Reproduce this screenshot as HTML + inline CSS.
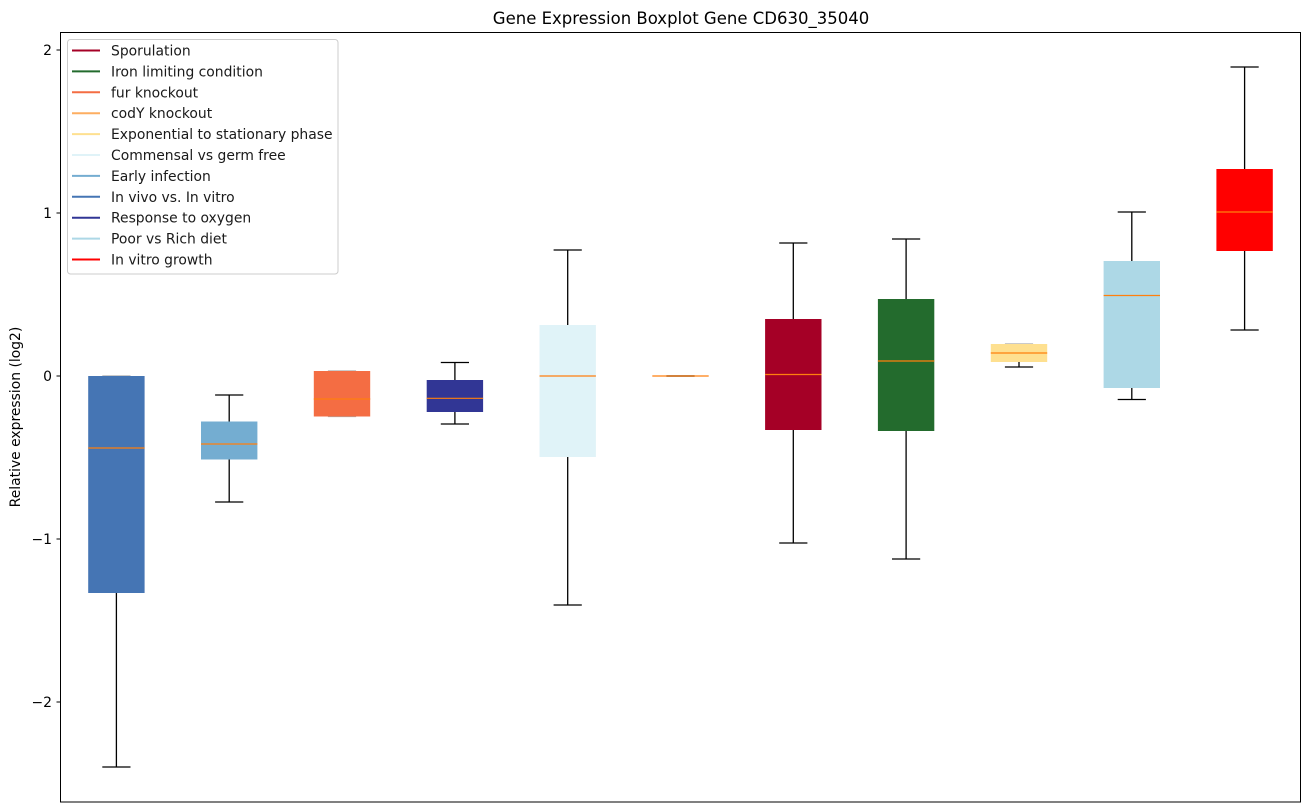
<!DOCTYPE html>
<html><head><meta charset="utf-8"><style>
html,body{margin:0;padding:0;background:#fff;}
svg{display:block;font-family:"DejaVu Sans","Liberation Sans",sans-serif;}
</style></head><body>
<svg width="1309" height="812" viewBox="0 0 1309 812" xmlns="http://www.w3.org/2000/svg">
<rect x="0" y="0" width="1309" height="812" fill="#fff"/>
<text x="681" y="24" font-size="16.5" text-anchor="middle" fill="#000">Gene Expression Boxplot Gene CD630_35040</text>

<!-- boxes -->
<g stroke="#000" stroke-width="1.3" fill="none">
<!-- 1 -->
<line x1="116.4" y1="593" x2="116.4" y2="767"/><line x1="102.3" y1="767" x2="130.5" y2="767"/>
<line x1="102.3" y1="376" x2="130.5" y2="376" stroke="#aaa"/>
<!-- 2 -->
<line x1="229.2" y1="395" x2="229.2" y2="421.5"/><line x1="229.2" y1="459.5" x2="229.2" y2="502"/>
<line x1="215.1" y1="395" x2="243.3" y2="395"/><line x1="215.1" y1="502" x2="243.3" y2="502"/>
<!-- 3 -->
<line x1="327.9" y1="371" x2="356.1" y2="371" stroke="#aaa"/><line x1="327.9" y1="416.5" x2="356.1" y2="416.5" stroke="#aaa"/>
<!-- 4 -->
<line x1="454.9" y1="362.5" x2="454.9" y2="380"/><line x1="454.9" y1="412" x2="454.9" y2="424"/>
<line x1="440.8" y1="362.5" x2="469" y2="362.5"/><line x1="440.8" y1="424" x2="469" y2="424"/>
<!-- 5 -->
<line x1="567.7" y1="250" x2="567.7" y2="325"/><line x1="567.7" y1="457" x2="567.7" y2="605"/>
<line x1="553.6" y1="250" x2="581.8" y2="250"/><line x1="553.6" y1="605" x2="581.8" y2="605"/>
<!-- 6 -->
<line x1="666.4" y1="376" x2="694.6" y2="376" stroke="#888" stroke-width="2"/>
<!-- 7 -->
<line x1="793.3" y1="243" x2="793.3" y2="319"/><line x1="793.3" y1="430" x2="793.3" y2="543"/>
<line x1="779.2" y1="243" x2="807.4" y2="243"/><line x1="779.2" y1="543" x2="807.4" y2="543"/>
<!-- 8 -->
<line x1="906.1" y1="239" x2="906.1" y2="299"/><line x1="906.1" y1="431" x2="906.1" y2="559"/>
<line x1="892" y1="239" x2="920.2" y2="239"/><line x1="892" y1="559" x2="920.2" y2="559"/>
<!-- 9 -->
<line x1="1019" y1="362" x2="1019" y2="367"/>
<line x1="1004.9" y1="367" x2="1033.1" y2="367"/><line x1="1004.9" y1="344" x2="1033.1" y2="344" stroke="#aaa"/>
<!-- 10 -->
<line x1="1131.8" y1="212" x2="1131.8" y2="261"/><line x1="1131.8" y1="388" x2="1131.8" y2="399.5"/>
<line x1="1117.7" y1="212" x2="1145.9" y2="212"/><line x1="1117.7" y1="399.5" x2="1145.9" y2="399.5"/>
<!-- 11 -->
<line x1="1244.6" y1="67" x2="1244.6" y2="169"/><line x1="1244.6" y1="251" x2="1244.6" y2="330"/>
<line x1="1230.5" y1="67" x2="1258.7" y2="67"/><line x1="1230.5" y1="330" x2="1258.7" y2="330"/>
</g>

<g stroke="none">
<rect x="88.2" y="376" width="56.4" height="217" fill="#4575b4"/>
<rect x="201" y="421.5" width="56.4" height="38" fill="#74add1"/>
<rect x="313.8" y="371" width="56.4" height="45.5" fill="#f46d43"/>
<rect x="426.7" y="380" width="56.4" height="32" fill="#313695"/>
<rect x="539.5" y="325" width="56.4" height="132" fill="#e0f3f8"/>
<rect x="765.1" y="319" width="56.4" height="111" fill="#a50026"/>
<rect x="877.9" y="299" width="56.4" height="132" fill="#236b2d"/>
<rect x="990.8" y="344" width="56.4" height="18" fill="#fee090"/>
<rect x="1103.6" y="261" width="56.4" height="127" fill="#add8e6"/>
<rect x="1216.4" y="169" width="56.4" height="82" fill="#ff0000"/>
</g>

<g stroke="#ff7f0e" stroke-width="1.2">
<line x1="88.2" y1="448" x2="144.6" y2="448"/>
<line x1="201" y1="444" x2="257.4" y2="444"/>
<line x1="313.8" y1="399" x2="370.2" y2="399"/>
<line x1="426.7" y1="398.3" x2="483.1" y2="398.3"/>
<line x1="539.5" y1="376" x2="595.9" y2="376"/>
<line x1="652.3" y1="376" x2="708.7" y2="376"/>
<line x1="765.1" y1="374.5" x2="821.5" y2="374.5"/>
<line x1="877.9" y1="361" x2="934.3" y2="361"/>
<line x1="990.8" y1="353" x2="1047.2" y2="353"/>
<line x1="1103.6" y1="295.5" x2="1160" y2="295.5"/>
<line x1="1216.4" y1="212" x2="1272.8" y2="212"/>
</g>

<!-- axes frame -->
<rect x="60.5" y="32.5" width="1240" height="769.5" fill="none" stroke="#000" stroke-width="1"/>

<!-- y ticks -->
<g stroke="#000" stroke-width="1">
<line x1="56.5" y1="50" x2="60.5" y2="50"/>
<line x1="56.5" y1="213" x2="60.5" y2="213"/>
<line x1="56.5" y1="376" x2="60.5" y2="376"/>
<line x1="56.5" y1="539" x2="60.5" y2="539"/>
<line x1="56.5" y1="702" x2="60.5" y2="702"/>
</g>
<g font-size="13.9" fill="#000" text-anchor="end">
<text x="52" y="55">2</text>
<text x="52" y="218">1</text>
<text x="52" y="381">0</text>
<text x="52" y="544">−1</text>
<text x="52" y="707">−2</text>
</g>
<text transform="translate(20,417) rotate(-90)" font-size="13.9" text-anchor="middle" fill="#000">Relative expression (log2)</text>

<!-- legend -->
<rect x="67.5" y="39.5" width="270.5" height="234.5" rx="3" fill="#fff" fill-opacity="0.8" stroke="#ccc" stroke-width="1"/>
<g stroke-width="2">
<line x1="72" y1="50.5" x2="100" y2="50.5" stroke="#a50026"/>
<line x1="72" y1="71.4" x2="100" y2="71.4" stroke="#236b2d"/>
<line x1="72" y1="92.3" x2="100" y2="92.3" stroke="#f46d43"/>
<line x1="72" y1="113.2" x2="100" y2="113.2" stroke="#fdae61"/>
<line x1="72" y1="134.1" x2="100" y2="134.1" stroke="#fee090"/>
<line x1="72" y1="155" x2="100" y2="155" stroke="#e0f3f8"/>
<line x1="72" y1="175.9" x2="100" y2="175.9" stroke="#74add1"/>
<line x1="72" y1="196.8" x2="100" y2="196.8" stroke="#4575b4"/>
<line x1="72" y1="217.7" x2="100" y2="217.7" stroke="#313695"/>
<line x1="72" y1="238.6" x2="100" y2="238.6" stroke="#add8e6"/>
<line x1="72" y1="259.5" x2="100" y2="259.5" stroke="#ff0000"/>
</g>
<g font-size="13.9" fill="#1a1a1a">
<text x="111" y="55.5">Sporulation</text>
<text x="111" y="76.4">Iron limiting condition</text>
<text x="111" y="97.3">fur knockout</text>
<text x="111" y="118.2">codY knockout</text>
<text x="111" y="139.1">Exponential to stationary phase</text>
<text x="111" y="160">Commensal vs germ free</text>
<text x="111" y="180.9">Early infection</text>
<text x="111" y="201.8">In vivo vs. In vitro</text>
<text x="111" y="222.7">Response to oxygen</text>
<text x="111" y="243.6">Poor vs Rich diet</text>
<text x="111" y="264.5">In vitro growth</text>
</g>
</svg>
</body></html>
